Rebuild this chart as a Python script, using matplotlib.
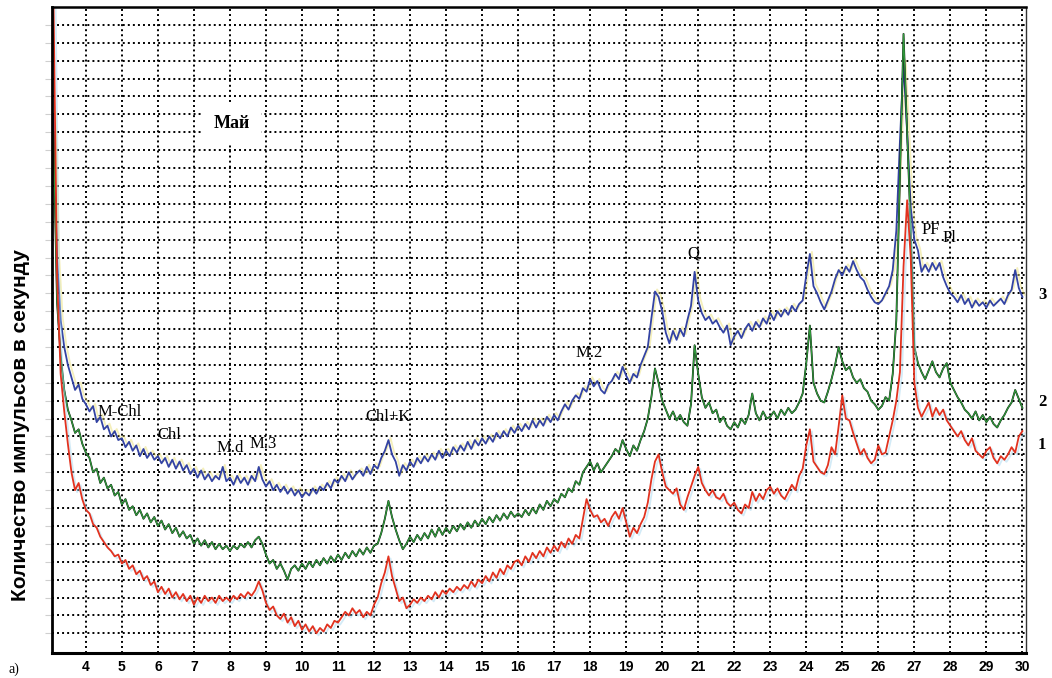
import numpy as np
import matplotlib
matplotlib.use("Agg")
import matplotlib.pyplot as plt
import matplotlib.patheffects as pe

# diffractograms, intensity in grid units, 0.1 deg step from 3.1 deg
curve_3 = [
    30.0, 22.0, 18.5, 17.0, 16.0, 15.3, 14.6, 14.9, 14.1,
    13.8, 13.4, 13.7, 12.8, 13.1, 12.4, 12.6, 12.0, 12.3, 11.8,
    11.9, 11.4, 11.7, 11.2, 11.5, 10.9, 11.3, 10.8, 11.1, 10.7,
    10.9, 10.5, 10.8, 10.3, 10.7, 10.2, 10.6, 10.1, 10.4, 9.9,
    10.2, 9.7, 10.1, 9.6, 9.9, 9.5, 9.8, 9.6, 10.3, 9.5,
    9.7, 9.3, 9.8, 9.4, 9.7, 9.3, 9.8, 9.5, 10.3, 9.6,
    9.2, 9.5, 9.0, 9.3, 8.9, 9.2, 8.8, 9.1, 8.7, 9.0,
    8.6, 8.9, 8.7, 9.1, 8.8, 9.2, 9.0, 9.4, 9.1, 9.6,
    9.4, 9.8, 9.5, 10.0, 9.6, 9.9, 10.1, 9.8, 10.3, 9.9,
    10.4, 10.2, 10.8, 11.2, 11.8, 11.0, 10.6, 9.8, 10.4, 10.1,
    10.6, 10.3, 10.8, 10.5, 10.9, 10.6, 11.0, 10.7, 11.2, 10.8,
    11.2, 10.9, 11.4, 11.1, 11.5, 11.2, 11.7, 11.3, 11.8, 11.5,
    11.9, 11.6, 12.0, 11.7, 12.2, 11.9, 12.3, 12.0, 12.5, 12.2,
    12.6, 12.3, 12.7, 12.4, 12.9, 12.5, 12.9, 12.6, 13.1, 12.8,
    13.2, 12.9, 13.4, 13.8, 13.5, 14.0, 14.3, 14.1, 14.7, 14.5,
    15.2, 14.8, 15.1, 14.6, 14.4, 14.9, 15.1, 15.5, 15.2, 15.9,
    15.4, 15.0, 15.5, 15.3, 16.0, 16.5, 17.0, 18.6, 20.1, 19.8,
    19.0, 17.8, 17.2, 17.9, 17.4, 18.0, 17.6, 18.5, 19.3, 21.2,
    19.6, 18.9, 18.5, 18.7, 18.3, 18.5, 18.1, 17.8, 18.2, 17.1,
    17.6, 17.9, 17.5, 18.0, 18.3, 17.9, 18.4, 18.1, 18.6, 18.3,
    18.9, 18.5, 19.0, 18.7, 19.1, 18.8, 19.3, 19.0, 19.4, 19.6,
    21.0, 22.2, 20.4, 20.0, 19.5, 19.1, 19.6, 20.1, 20.8, 21.3,
    21.0, 21.5, 21.2, 21.8, 21.3, 20.9, 20.7, 20.2, 19.8, 19.5,
    19.4, 19.6, 20.0, 20.4, 21.3, 23.5, 28.5, 32.9, 29.0, 24.8,
    23.0, 22.4, 21.2, 21.6, 21.2, 21.7, 21.3, 21.7, 20.9, 20.4,
    20.0, 19.8, 19.5, 19.9, 19.4, 19.7, 19.2, 19.6, 19.3, 19.5,
    19.2, 19.6, 19.3, 19.5, 19.7, 19.4, 19.9, 20.2, 21.3, 20.3,
    19.8,
]

curve_2 = [
    29.0, 19.5, 16.5, 14.6, 13.5, 12.9, 12.2, 12.4, 11.6,
    11.1, 10.8, 10.0, 10.2, 9.4, 9.7, 9.1, 9.3, 8.7, 8.9,
    8.2, 8.5, 7.9, 8.1, 7.6, 7.9, 7.4, 7.7, 7.2, 7.5,
    7.0, 7.3, 6.8, 7.1, 6.6, 6.9, 6.4, 6.7, 6.3, 6.5,
    6.0, 6.3, 5.9, 6.2, 5.8, 6.1, 5.7, 6.0, 5.7, 5.9,
    5.6, 5.9, 5.7, 6.0, 5.8, 6.1, 5.8, 6.2, 6.4, 6.0,
    5.4, 4.9, 5.1, 4.6, 4.9, 4.5, 4.0, 4.6, 4.8, 4.5,
    4.9, 4.6, 5.0, 4.7, 5.1, 4.8, 5.2, 4.9, 5.3, 5.0,
    5.4, 5.1, 5.5, 5.2, 5.6, 5.3, 5.7, 5.4, 5.8, 5.5,
    5.9, 6.0, 6.6, 7.4, 8.4, 7.5, 6.8, 6.2, 5.7, 6.0,
    6.4, 6.1, 6.5, 6.2, 6.6, 6.3, 6.8, 6.4, 6.9, 6.5,
    6.9, 6.6, 7.0, 6.7, 7.1, 6.8, 7.2, 6.9, 7.3, 7.0,
    7.4, 7.1, 7.5, 7.2, 7.6, 7.3, 7.7, 7.4, 7.8, 7.5,
    7.7, 7.5, 7.9, 7.6, 8.0, 7.7, 8.2, 7.9, 8.4, 8.1,
    8.5, 8.3, 8.8, 8.6, 9.1, 8.9, 9.5, 9.3, 10.0, 10.3,
    10.6, 10.1, 10.5, 10.0, 10.3, 10.6, 10.9, 11.3, 11.1, 11.8,
    11.3, 10.9, 11.5, 11.2, 11.8, 12.3, 13.0, 14.2, 15.8, 15.0,
    14.0, 13.5, 13.0, 13.4, 12.9, 13.2, 12.8, 12.6, 13.8, 17.1,
    15.5, 14.2, 13.6, 13.9, 13.3, 13.5, 12.8, 13.1, 12.6, 12.4,
    12.8, 12.5, 13.0, 12.7, 13.2, 14.4, 13.3, 12.9, 13.4, 13.0,
    13.1, 13.4, 13.0, 13.5, 13.2, 13.6, 13.3, 13.5, 13.9, 14.4,
    16.1, 18.2, 15.0, 14.4, 14.0, 13.9, 14.5, 15.2, 16.0, 17.0,
    16.2, 15.7, 15.9, 15.3, 15.0, 15.2, 14.7, 14.5, 14.0, 13.8,
    13.5, 13.7, 14.2, 14.0, 15.5, 18.5, 26.5, 34.5, 29.0, 23.5,
    17.0, 16.1, 15.6, 15.2, 15.7, 16.2, 15.6, 15.3, 15.8, 16.1,
    15.0, 14.6, 14.2, 13.9, 13.5, 13.3, 13.0, 13.4, 12.9, 13.2,
    12.8, 13.1, 12.7, 12.5, 12.9, 13.2, 13.6, 13.9, 14.6, 14.1,
    13.6,
]

curve_1 = [
    36.5, 21.0, 15.5, 13.4, 11.6, 10.0, 9.0, 9.4, 8.5,
    7.9, 7.7, 7.1, 6.9, 6.4, 6.1, 5.8, 5.6, 5.3, 5.4,
    4.9, 5.1, 4.6, 4.8, 4.3, 4.5, 4.0, 4.2, 3.7, 3.9,
    3.3, 3.6, 3.2, 3.5, 3.0, 3.3, 2.9, 3.2, 2.8, 3.1,
    2.6, 3.0, 2.7, 3.1, 2.8, 3.0, 2.7, 3.1, 2.8, 3.0,
    2.8, 3.1, 2.9, 3.2, 3.0, 3.3, 3.1, 3.4, 3.9, 3.4,
    2.7, 2.3, 2.5, 2.0, 1.8, 2.1, 1.6, 1.9, 1.4, 1.7,
    1.2, 1.5, 1.1, 1.4, 1.0, 1.3, 1.1, 1.5, 1.3, 1.7,
    1.6, 1.9, 2.2, 2.0, 2.4, 2.1, 2.3, 1.9, 2.2, 2.0,
    2.6, 3.0, 3.8, 4.4, 5.3, 4.2, 3.5, 2.8, 3.0, 2.4,
    2.6, 2.9, 2.7, 3.0, 2.8, 3.1, 2.9, 3.3, 3.0, 3.4,
    3.2, 3.5, 3.3, 3.6, 3.4, 3.7, 3.5, 3.9, 3.6, 4.0,
    3.8, 4.2, 3.9, 4.4, 4.1, 4.6, 4.3, 4.8, 4.6, 5.0,
    5.1, 4.8, 5.3, 5.0, 5.5, 5.2, 5.6, 5.3, 5.8, 5.5,
    5.9, 5.6, 6.1, 5.8, 6.3, 6.0, 6.5, 6.3, 7.4, 8.5,
    7.9, 7.5, 7.6, 7.2, 7.4, 7.0, 7.5, 7.8, 7.4, 8.0,
    7.2, 6.4, 6.9, 6.6, 7.1, 7.5, 8.3, 9.6, 10.6, 11.0,
    10.0, 9.2, 9.0, 8.8, 9.1, 8.2, 7.9, 8.6, 9.2, 9.8,
    10.3, 9.4, 9.0, 8.7, 9.0, 8.6, 8.5, 8.8, 8.3, 8.1,
    8.3, 7.9, 7.7, 8.2, 8.0, 8.9, 8.4, 8.8, 8.5, 9.0,
    9.2, 8.8, 9.1, 8.7, 8.5, 8.9, 9.3, 9.0, 9.8, 10.2,
    11.5, 12.4, 10.6, 10.3, 10.0, 9.9, 10.4, 11.4, 11.0, 12.6,
    14.3, 13.0, 12.9, 12.2, 11.6, 11.0, 11.3, 10.8, 10.5, 10.7,
    11.5, 11.0, 11.1, 12.0, 12.9, 14.0, 15.6, 21.5, 25.2, 22.0,
    15.0, 13.6, 13.1, 13.5, 13.9, 13.1, 13.6, 13.2, 13.5, 12.9,
    12.6, 12.3, 12.0, 12.3, 11.8, 11.5, 11.9, 11.2, 11.0, 10.8,
    11.2, 11.4, 10.8, 10.5, 10.9, 10.7, 11.0, 11.4, 11.1, 12.0,
    12.3,
]

two_theta = np.round(3.1 + 0.1 * np.arange(len(curve_3)), 1)

# phase labels: (text, 2theta, level)
phase_labels = [
    ("M-Chl", 4.95, 13.36),
    ("Chl", 6.31, 12.08),
    ("M.d", 8.0, 11.35),
    ("M.3", 8.92, 11.58),
    ("Chl+K", 12.39, 13.08),
    ("M.2", 17.98, 16.66),
    ("Q", 20.87, 22.25),
    ("PF", 27.45, 23.53),
    ("Pl", 27.98, 23.08),
]
curve_names = [("3", 19.9), ("2", 13.92), ("1", 11.52)]

fig = plt.figure(figsize=(10.52, 6.78), dpi=100)
ax = fig.add_axes([52 / 1052, 25 / 678, 974 / 1052, 646 / 678])

ax.set_xlim(3.06, 30.1)
ax.set_ylim(-0.1, 36.0)
ax.set_xticks(range(4, 31))
ax.set_yticks(range(1, 36))
ax.grid(True, color="black", linestyle=(0, (1, 1.6)), linewidth=1.4)
ax.set_axisbelow(True)

ax.tick_params(axis="x", length=0, pad=5)
for lbl in ax.get_xticklabels():
    lbl.set_fontweight("bold")
    lbl.set_fontsize(10)
    lbl.set_family("Liberation Sans")
ax.tick_params(axis="y", length=5, color="#cfcfcf", labelleft=False)

ax.spines["left"].set_linewidth(2.0)
ax.spines["top"].set_linewidth(1.8)
ax.spines["bottom"].set_linewidth(2.2)
ax.spines["right"].set_linewidth(1.0)
ax.spines["right"].set_color("#333333")

ax.plot(two_theta, curve_3, color="#3343a3", lw=1.3,
        path_effects=[pe.SimpleLineShadow(offset=(1.5, 1.5), shadow_color="#e8dc6a", alpha=0.45, rho=1),
                      pe.Normal()])
ax.plot(two_theta, curve_2, color="#111111", lw=1.3)
ax.plot(two_theta, curve_2, color="#2f9a3a", lw=0.9)
ax.plot(two_theta, curve_1, color="#e2321f", lw=1.3,
        path_effects=[pe.SimpleLineShadow(offset=(1.5, -1.5), shadow_color="#9fd4ee", alpha=0.45, rho=1),
                      pe.Normal()])

for txt, x, y in phase_labels:
    ax.text(x, y, txt, ha="center", va="center", fontsize=12, family="Liberation Serif")
ax.text(8.06, 29.5, "Май", ha="center", va="center", fontsize=13,
        fontweight="bold", family="Liberation Serif",
        bbox=dict(boxstyle="square,pad=0.6", facecolor="white", edgecolor="none"))
for txt, y in curve_names:
    ax.text(30.55, y, txt, ha="center", va="center", fontsize=12, fontweight="bold",
            family="Liberation Serif", clip_on=False)

fig.text(21 / 1052, 1 - 425 / 678, "Количество импульсов в секунду", rotation=90,
         ha="center", va="center", fontsize=15, fontweight="bold", family="Liberation Sans")
fig.text(0.008, 0.003, "а)", ha="left", va="bottom", fontsize=10, family="Liberation Serif")

fig.savefig("out.png", dpi=100)
